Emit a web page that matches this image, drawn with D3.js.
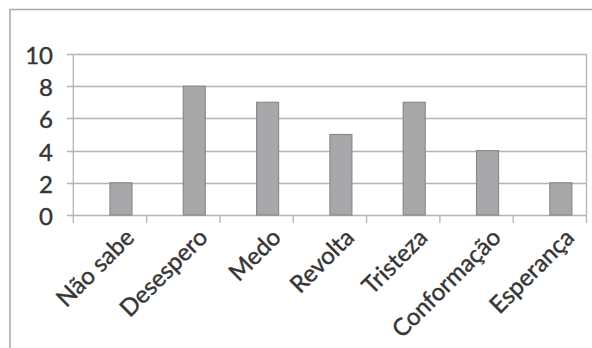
<!DOCTYPE html>
<html><head><meta charset="utf-8">
<script src="https://cdn.jsdelivr.net/npm/d3@7"></script>
<style>html,body{margin:0;padding:0;background:#fff;}svg{display:block;}</style>
</head><body>
<script>
const categories = ["Não sabe","Desespero","Medo","Revolta","Tristeza","Conformação","Esperança"];
const values = [2,8,7,5,7,4,2];
const yTicks = [0,2,4,6,8,10];

const W = 592, H = 348;
const svg = d3.select("body").append("svg").attr("width", W).attr("height", H);
const font = "Lato, 'Open Sans', sans-serif";
const textColor = "#353535";

// outer frame
svg.append("path").attr("d", `M10,${H} L10,9.5 L${W},9.5`)
  .attr("fill","none").attr("stroke","#a9a9a9").attr("stroke-width",1.5);

const x = d3.scaleBand().domain(categories).range([73.3, 586.5]).padding(0);
const y = d3.scaleLinear().domain([0,10]).range([215, 54]);
const bw = x.bandwidth();

// gridlines
svg.append("g").selectAll("line").data(yTicks).join("line")
  .attr("x1", 67).attr("x2", x.range()[1])
  .attr("y1", d => Math.round(y(d))+0.5).attr("y2", d => Math.round(y(d))+0.5)
  .attr("stroke", "#b4b4b4").attr("stroke-width", 1.3);

// axis lines
const xTickPos = categories.map(c => x(c)).concat([x.range()[1]]);
svg.append("g").selectAll("line").data(xTickPos).join("line")
  .attr("x1", d => d).attr("x2", d => d)
  .attr("y1", (d,i) => (i===0 || i===xTickPos.length-1) ? y(10) : y(0)).attr("y2", y(0)+8)
  .attr("stroke", "#b4b4b4").attr("stroke-width", 1.3);

// bars
svg.append("g").selectAll("rect").data(values).join("rect")
  .attr("x", (d,i) => x(categories[i]) + bw*0.5)
  .attr("width", bw*0.3)
  .attr("y", d => y(d))
  .attr("height", d => y(0) - y(d))
  .attr("fill", "#a8a8aa")
  .attr("stroke", "#8a8a8c").attr("stroke-width", 1.2);

// y labels
svg.append("g").selectAll("text").data(yTicks).join("text")
  .attr("x", 53).attr("y", d => y(d)).attr("dy", "0.42em")
  .attr("text-anchor","end")
  .attr("font-family", font).attr("font-size", 24).attr("fill", textColor)
  .attr("stroke", textColor).attr("stroke-width", 0.4)
  .text(d => d);

// x labels
svg.append("g").selectAll("text").data(categories).join("text")
  .attr("transform", c => `translate(${x(c) + bw*0.77},233) rotate(-45)`)
  .attr("dy", "0.35em")
  .attr("text-anchor","end")
  .attr("font-family", font).attr("font-size", 24).attr("fill", textColor)
  .attr("stroke", textColor).attr("stroke-width", 0.4)
  .text(c => c);
</script>
</body></html>
